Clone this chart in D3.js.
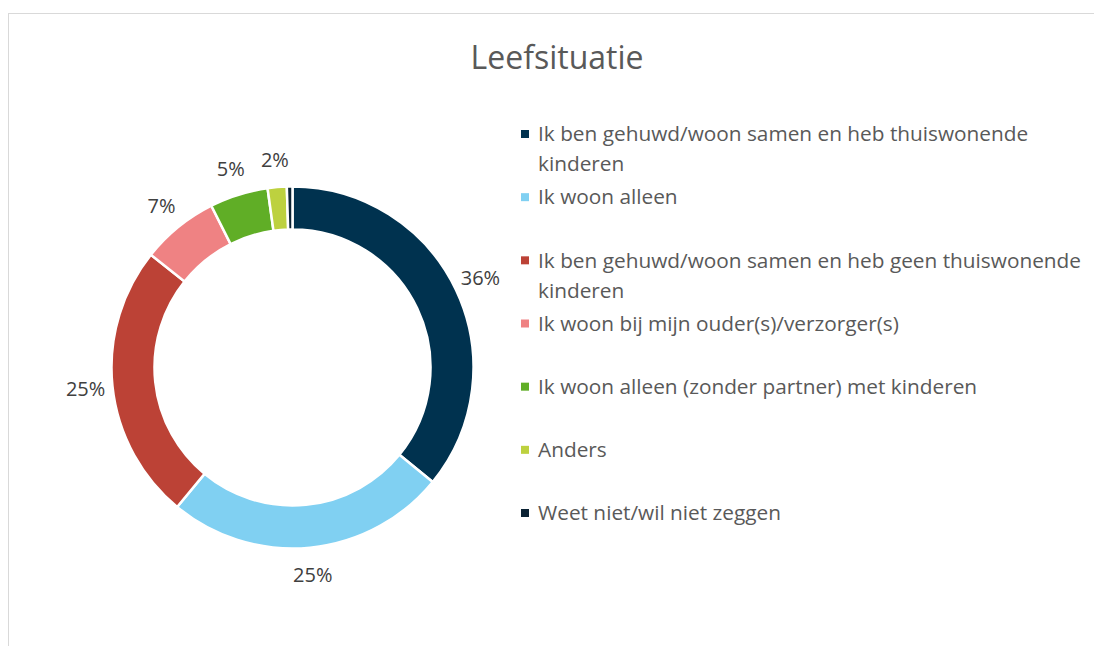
<!DOCTYPE html>
<html>
<head>
<meta charset="utf-8">
<script src="https://cdn.jsdelivr.net/npm/d3@7"></script>
<style>
  body { margin: 0; background: #fff; }
  svg text { font-family: "Open Sans", "Noto Sans", sans-serif; }
</style>
</head>
<body>
<svg id="chart" width="1094" height="646"></svg>
<script>
const categories = [
  "Ik ben gehuwd/woon samen en heb thuiswonende kinderen",
  "Ik woon alleen",
  "Ik ben gehuwd/woon samen en heb geen thuiswonende kinderen",
  "Ik woon bij mijn ouder(s)/verzorger(s)",
  "Ik woon alleen (zonder partner) met kinderen",
  "Anders",
  "Weet niet/wil niet zeggen"
];
const values = [35.9, 25.1, 24.7, 6.9, 5.2, 1.7, 0.5];
const labels = ["36%", "25%", "25%", "7%", "5%", "2%", ""];
const colors = ["#00324f", "#80d0f2", "#bc4236", "#ef8283", "#60ae26", "#bdd13f", "#0b2233"];

const svg = d3.select("#chart");

// outer frame (runs off the right and bottom edge)
svg.append("rect")
  .attr("x", 8.5).attr("y", 13.5)
  .attr("width", 1200).attr("height", 800)
  .attr("fill", "none").attr("stroke", "#d9d9d9");

svg.append("text")
  .attr("x", 557).attr("y", 69)
  .attr("text-anchor", "middle")
  .attr("font-size", 32)
  .attr("fill", "#595959")
  .text("Leefsituatie");

const cx = 292.5, cy = 367.5, R = 181, r = 138;

const pie = d3.pie().sort(null).value(d => d);
const arcs = pie(values);
const arc = d3.arc().innerRadius(r).outerRadius(R);
const labelArc = d3.arc().innerRadius(R + 27).outerRadius(R + 27);

const g = svg.append("g").attr("transform", `translate(${cx},${cy})`);

g.selectAll("path.slice")
  .data(arcs)
  .join("path")
  .attr("class", "slice")
  .attr("d", arc)
  .attr("fill", (d, i) => colors[i])
  .attr("stroke", "#fff")
  .attr("stroke-width", 2.5);

g.selectAll("text.lbl")
  .data(arcs)
  .join("text")
  .attr("class", "lbl")
  .attr("transform", d => `translate(${labelArc.centroid(d)})`)
  .attr("text-anchor", "middle")
  .attr("dy", "0.35em")
  .attr("font-size", 20)
  .attr("fill", "#404040")
  .text((d, i) => labels[i]);

// legend
const legendY = d3.scalePoint()
  .domain(categories)
  .range([134, 513]);

const wrapWidth = 553;
const legend = svg.append("g");

categories.forEach((c, i) => {
  const y = legendY(c);
  legend.append("rect")
    .attr("x", 521).attr("y", y - 4)
    .attr("width", 8).attr("height", 8)
    .attr("fill", colors[i]);

  const t = legend.append("text")
    .attr("x", 538).attr("y", y)
    .attr("dy", "0.35em")
    .attr("font-size", 20.8)
    .attr("fill", "#595959");

  // simple word wrap
  const words = c.split(" ");
  let line = [];
  let tspan = t.append("tspan").attr("x", 538);
  words.forEach(w => {
    line.push(w);
    tspan.text(line.join(" "));
    if (tspan.node().getComputedTextLength() > wrapWidth && line.length > 1) {
      line.pop();
      tspan.text(line.join(" "));
      line = [w];
      tspan = t.append("tspan").attr("x", 538).attr("dy", 30).text(w);
    }
  });
});
</script>
</body>
</html>
